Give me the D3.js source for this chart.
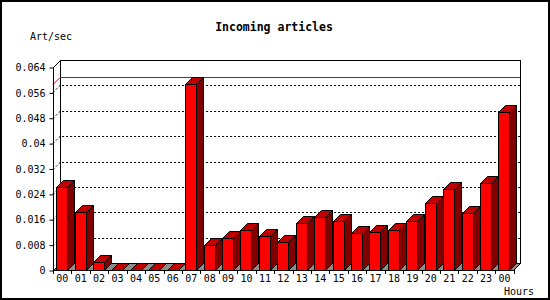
<!DOCTYPE html>
<html><head><meta charset="utf-8">
<script src="https://cdn.jsdelivr.net/npm/d3@7"></script>
<style>body{margin:0;background:#fff}svg{display:block}</style>
</head><body>
<svg id="c" width="550" height="300"></svg>
<script>
const hours = ["00","01","02","03","04","05","06","07","08","09","10","11","12","13","14","15","16","17","18","19","20","21","22","23","00"];
const artPerSec = [0.0261,0.0182,0.0024,0,0,0,0,0.0586,0.0078,0.0100,0.0126,0.0106,0.0087,0.0147,0.0166,0.0153,0.0116,0.0119,0.0125,0.0153,0.0210,0.0254,0.0179,0.0273,0.0497];
const yTicks = [0,0.008,0.016,0.024,0.032,0.04,0.048,0.056,0.064];
const yTickLabels = ["0","0.008","0.016","0.024","0.032","0.04","0.048","0.056","0.064"];
const title = "Incoming articles", yTitle = "Art/sec", xTitle = "Hours";

const svg = d3.select("#c");
const W = 550, H = 300;
const L = 53, R = 513, T = 67, B = 270, D = 7;
const font = "'DejaVu Sans Mono', monospace";

const x = d3.scaleBand().domain(d3.range(hours.length)).range([L, R + 0.75]).padding(0);
const y = d3.scaleLinear().domain([0, 0.064]).range([B, T]);
const bw = x.bandwidth();
const barW = Math.round(bw * 0.6), barOff = bw * 0.17;

svg.append("rect").attr("width", W).attr("height", H).attr("fill", "#fff");
svg.append("rect").attr("x", 1).attr("y", 1).attr("width", W - 2).attr("height", H - 2)
  .attr("fill", "none").attr("stroke", "#000").attr("stroke-width", 2);

// back wall
svg.append("rect").attr("x", L + D + 0.5).attr("y", T - D + 0.5).attr("width", R - L).attr("height", B - T)
  .attr("fill", "#fff").attr("stroke", "#000");

// gridlines
const gl = svg.append("g");
yTicks.filter(v => v > 0 && v < 0.064).forEach(v => {
  const yy = Math.round(y(v)) + 0.5;
  gl.append("polyline").attr("points", `${L},${yy} ${L + D},${yy - D} ${R + D},${yy - D}`)
    .attr("fill", "none").attr("stroke", "#000").attr("stroke-dasharray", "2,2");
});
// max line
const ym = Math.round(y(d3.max(artPerSec))) + 0.5;
svg.append("polyline").attr("points", `${L},${ym} ${L + D},${ym - D} ${R + D},${ym - D}`)
  .attr("fill", "none").attr("stroke", "#e00000");

// floor
svg.append("polygon").attr("points", `${L + 0.5},${B + 0.5} ${L + D + 0.5},${B - D + 0.5} ${R + D + 0.5},${B - D + 0.5} ${R + 0.5},${B + 0.5}`)
  .attr("fill", "#8c8c8c").attr("stroke", "#000");

// bars
const bars = svg.append("g");
artPerSec.forEach((v, i) => {
  const x0 = Math.round(x(i) + barOff) + 0.5, x1 = x0 + barW;
  const yt = Math.round(y(v)) + 0.5, yb = B + 0.5;
  bars.append("polygon").attr("points", `${x1},${yt} ${x1 + D},${yt - D} ${x1 + D},${yb - D} ${x1},${yb}`)
    .attr("fill", "#800000").attr("stroke", "#000");
  bars.append("polygon").attr("points", `${x0},${yt} ${x0 + D},${yt - D} ${x1 + D},${yt - D} ${x1},${yt}`)
    .attr("fill", "#c00000").attr("stroke", "#000");
  if (v > 0) bars.append("rect").attr("x", x0).attr("y", yt).attr("width", barW).attr("height", yb - yt)
    .attr("fill", "#ff0000").attr("stroke", "#000");
});

// axes lines
svg.append("line").attr("x1", L + 0.5).attr("x2", L + 0.5).attr("y1", T).attr("y2", B + 1).attr("stroke", "#000");
svg.append("line").attr("x1", L + 0.5).attr("y1", T + 0.5).attr("x2", L + D + 0.5).attr("y2", T - D + 0.5).attr("stroke", "#000");

const yAxis = d3.axisLeft(y).tickValues(yTicks).tickFormat((d, i) => yTickLabels[i]).tickSize(4).tickSizeOuter(0).tickPadding(4);
const ga = svg.append("g").attr("transform", `translate(${L + 0.5},0.5)`).call(yAxis);
ga.select(".domain").remove();
ga.selectAll("text").attr("font-family", font).attr("font-size", 10).attr("fill", "#000");

const xAxis = d3.axisBottom(x).tickFormat(i => hours[i]).tickSize(0).tickPadding(5);
const gx = svg.append("g").attr("transform", `translate(0,${B})`).call(xAxis);
gx.select(".domain").remove();
gx.selectAll("line").remove();
gx.selectAll("text").attr("font-family", font).attr("font-size", 10).attr("fill", "#000");
svg.append("line").attr("x1", L).attr("x2", R + 1).attr("y1", B + 0.5).attr("y2", B + 0.5).attr("stroke", "#000");
svg.append("line").attr("x1", R + 0.5).attr("y1", B + 0.5).attr("x2", R + D + 0.5).attr("y2", B - D + 0.5).attr("stroke", "#000");
const bt = svg.append("g");
d3.range(hours.length + 1).forEach(i => {
  const xx = Math.round(i < hours.length ? x(i) : x(hours.length - 1) + bw) + 0.5;
  bt.append("line").attr("x1", xx).attr("x2", xx).attr("y1", B).attr("y2", B + 4).attr("stroke", "#000");
});

svg.append("text").attr("x", 274).attr("y", 27).attr("text-anchor", "middle").attr("dominant-baseline", "middle")
  .attr("font-family", font).attr("font-weight", "bold").attr("font-size", 11.5).text(title);
svg.append("text").attr("x", 30).attr("y", 37).attr("dominant-baseline", "middle")
  .attr("font-family", font).attr("font-size", 10).text(yTitle);
svg.append("text").attr("x", 534).attr("y", 292).attr("text-anchor", "end").attr("dominant-baseline", "middle")
  .attr("font-family", font).attr("font-size", 10).text(xTitle);
</script>
</body></html>
